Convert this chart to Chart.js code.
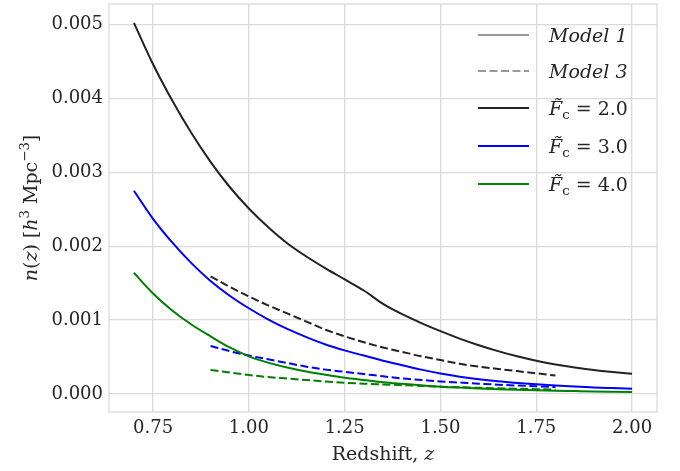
<!DOCTYPE html>
<html>
<head>
<meta charset="utf-8">
<script src="https://cdn.jsdelivr.net/npm/chart.js@4.4.1/dist/chart.umd.min.js"></script>
<style>
  html, body { margin: 0; padding: 0; background: #fff; }
  #wrap { width: 680px; height: 471px; }
</style>
</head>
<body>
<div id="wrap"><canvas id="nzChart" width="680" height="471"></canvas></div>
<script>
// Redshift grid for each model
const zModel1 = [0.70, 0.75, 0.80, 0.85, 0.90, 0.95, 1.00, 1.05, 1.10, 1.15, 1.20, 1.25, 1.30,
  1.35, 1.40, 1.45, 1.50, 1.55, 1.60, 1.65, 1.70, 1.75, 1.80, 1.85, 1.90, 1.95, 2.00];
const zModel3 = [0.90, 0.95, 1.00, 1.05, 1.10, 1.15, 1.20, 1.25, 1.30, 1.35, 1.40, 1.45, 1.50,
  1.55, 1.60, 1.65, 1.70, 1.75, 1.80];

// n(z) in h^3 Mpc^-3, Model 1 (solid)
const fc2Model1 = [0.00502, 0.00446, 0.00397, 0.00353, 0.00314, 0.00280, 0.00251, 0.00226, 0.00204,
  0.00186, 0.00170, 0.00155, 0.00140, 0.00122, 0.00108, 0.00096, 0.00085, 0.00075, 0.00066,
  0.00058, 0.00051, 0.00045, 0.000400, 0.000360, 0.000325, 0.000298, 0.000275];
const fc3Model1 = [0.00275, 0.00237, 0.00205, 0.00177, 0.00153, 0.00133, 0.00116, 0.00101, 0.00088,
  0.00077, 0.00067, 0.00059, 0.00052, 0.00045, 0.00039, 0.00033, 0.000278, 0.000235, 0.0002,
  0.000172, 0.00015, 0.000131, 0.000115, 0.000101, 0.00009, 0.00008, 0.00007];
const fc4Model1 = [0.00164, 0.00136, 0.00113, 0.00094, 0.00078, 0.00063, 0.00051, 0.000425, 0.00036,
  0.000305, 0.00026, 0.00022, 0.00019, 0.00016, 0.000138, 0.000118, 0.0001, 0.000087, 0.000076,
  0.000066, 0.000058, 0.000051, 0.000045, 0.00004, 0.000035, 0.000031, 0.000027];

// Model 3 (dashed)
const fc2Model3 = [0.00159, 0.00145, 0.00132, 0.00120, 0.00109, 0.00098, 0.00087, 0.00078, 0.00070,
  0.00063, 0.00057, 0.00051, 0.00046, 0.00041, 0.00037, 0.00034, 0.00031, 0.00028, 0.00025];
const fc3Model3 = [0.00065, 0.00058, 0.00052, 0.00047, 0.00042, 0.00037, 0.00033, 0.00030, 0.00027,
  0.00024, 0.00021, 0.00019, 0.00017, 0.000155, 0.00014, 0.000127, 0.000115, 0.000105, 0.000095];
const fc4Model3 = [0.000325, 0.00029, 0.000257, 0.00023, 0.00021, 0.00019, 0.00017, 0.000153, 0.00014,
  0.00013, 0.00012, 0.00011, 0.0001, 0.000092, 0.000085, 0.000078, 0.000072, 0.000066, 0.00006];

const xTicks = [0.75, 1.00, 1.25, 1.50, 1.75, 2.00];
const yTicks = [0.000, 0.001, 0.002, 0.003, 0.004, 0.005];
const fcValues = ['2.0', '3.0', '4.0'];

const SERIF = "'DejaVu Serif', 'Liberation Serif', serif";
const GRID = '#dadada';
const BLACK = '#222222';
const BLUE = '#0000ff';
const GREEN = '#008000';
const GREY = '#999999';
const DASH = [8, 3.5];

function toPoints(xs, ys) {
  return xs.map((x, i) => ({ x: x, y: ys[i] }));
}

function series(xs, ys, color, dashed) {
  return {
    data: toPoints(xs, ys),
    borderColor: color,
    borderWidth: 2,
    borderDash: dashed ? DASH : [],
    pointRadius: 0,
    fill: false,
    cubicInterpolationMode: 'monotone',
  };
}

// draw a run of text pieces: {t, it, sup, sub}
function drawRich(ctx, parts, x, y, size, align) {
  const pieces = parts.map((p) => {
    const s = (p.sup || p.sub) ? size * 0.7 : size;
    const font = (p.it ? 'italic ' : '') + s + 'px ' + SERIF;
    ctx.font = font;
    return { p: p, font: font, w: ctx.measureText(p.t).width };
  });
  const total = pieces.reduce((a, b) => a + b.w, 0);
  let cx = align === 'center' ? x - total / 2 : x;
  ctx.textBaseline = 'alphabetic';
  ctx.textAlign = 'left';
  pieces.forEach((pc) => {
    ctx.font = pc.font;
    let dy = 0;
    if (pc.p.sup) dy = -size * 0.42;
    if (pc.p.sub) dy = size * 0.22;
    ctx.fillText(pc.p.t, cx, y + dy);
    cx += pc.w;
  });
}

const decorPlugin = {
  id: 'decor',
  afterDatasetsDraw(chart) {
    const ctx = chart.ctx;
    const a = chart.chartArea;
    ctx.save();
    // frame
    ctx.strokeStyle = GRID;
    ctx.lineWidth = 1.3;
    ctx.strokeRect(a.left, a.top, a.right - a.left, a.bottom - a.top);

    ctx.fillStyle = '#262626';
    // x title
    drawRich(ctx, [{ t: 'Redshift, ' }, { t: 'z', it: true }], (a.left + a.right) / 2, 460, 19, 'center');
    // y title
    ctx.save();
    ctx.translate(37, (a.top + a.bottom) / 2);
    ctx.rotate(-Math.PI / 2);
    drawRich(ctx, [
      { t: 'n', it: true }, { t: '(' }, { t: 'z', it: true }, { t: ') [' },
      { t: 'h', it: true }, { t: '3', sup: true }, { t: ' Mpc' }, { t: '\u22123', sup: true }, { t: ']' },
    ], 0, 0, 19, 'center');
    ctx.restore();

    // legend
    const lx0 = 478, lx1 = 529, tx = 549;
    const rows = [
      { color: GREY, dash: [], label: [{ t: 'Model 1', it: true }] },
      { color: GREY, dash: DASH, label: [{ t: 'Model 3', it: true }] },
      { color: BLACK, dash: [], label: null, fc: fcValues[0] },
      { color: BLUE, dash: [], label: null, fc: fcValues[1] },
      { color: GREEN, dash: [], label: null, fc: fcValues[2] },
    ];
    const rowY = [35, 71, 108, 146, 184];
    rows.forEach((r, i) => {
      const y = rowY[i];
      ctx.strokeStyle = r.color;
      ctx.lineWidth = 2;
      ctx.setLineDash(r.dash);
      ctx.beginPath();
      ctx.moveTo(lx0, y);
      ctx.lineTo(lx1, y);
      ctx.stroke();
      ctx.setLineDash([]);
      ctx.fillStyle = '#262626';
      const parts = r.label || [
        { t: 'F\u0303', it: true }, { t: 'c', sub: true }, { t: ' = ' + r.fc },
      ];
      drawRich(ctx, parts, tx, y + 7, 19, 'left');
    });
    ctx.restore();
  },
};

new Chart(document.getElementById('nzChart'), {
  type: 'line',
  data: {
    datasets: [
      series(zModel1, fc2Model1, BLACK, false),
      series(zModel1, fc3Model1, BLUE, false),
      series(zModel1, fc4Model1, GREEN, false),
      series(zModel3, fc2Model3, BLACK, true),
      series(zModel3, fc3Model3, BLUE, true),
      series(zModel3, fc4Model3, GREEN, true),
    ],
  },
  options: {
    responsive: false,
    animation: false,
    layout: { padding: { top: 4, right: 23, left: 0, bottom: 0 } },
    plugins: {
      legend: { display: false },
      tooltip: { enabled: false },
    },
    scales: {
      x: {
        type: 'linear',
        min: 0.635,
        max: 2.065,
        afterBuildTicks: (scale) => { scale.ticks = xTicks.map((v) => ({ value: v })); },
        afterFit: (scale) => {
          scale.height = 59;
          scale.paddingLeft = 0;
          scale.paddingRight = 0;
        },
        grid: { color: GRID, lineWidth: 1.3, drawTicks: false },
        border: { display: false },
        ticks: {
          color: '#262626',
          padding: 6,
          maxRotation: 0,
          font: { family: SERIF, size: 18 },
          callback: (v) => v.toFixed(2),
        },
      },
      y: {
        type: 'linear',
        min: -0.000243,
        max: 0.005275,
        afterBuildTicks: (scale) => { scale.ticks = yTicks.map((v) => ({ value: v })); },
        afterFit: (scale) => {
          scale.width = 109;
          scale.paddingTop = 0;
          scale.paddingBottom = 0;
        },
        grid: { color: GRID, lineWidth: 1.3, drawTicks: false },
        border: { display: false },
        ticks: {
          color: '#262626',
          padding: 6,
          font: { family: SERIF, size: 18 },
          callback: (v) => v.toFixed(3),
        },
      },
    },
  },
  plugins: [decorPlugin],
});
</script>
</body>
</html>
